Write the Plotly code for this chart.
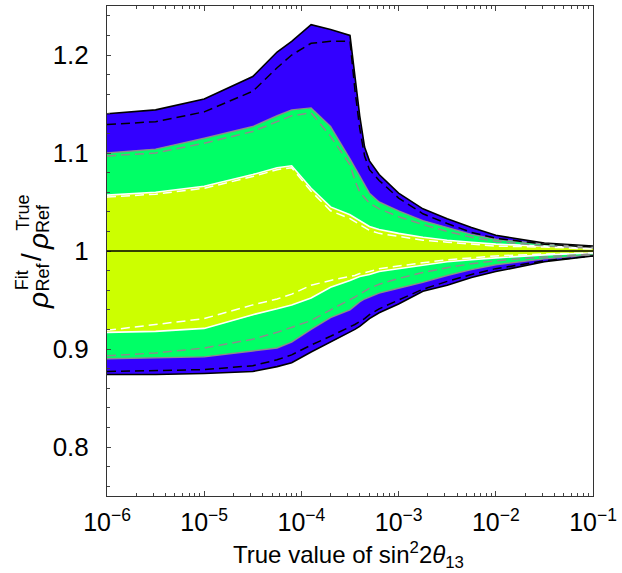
import plotly.graph_objects as go

# ---- data ----
log_x = [-6, -5.5, -5, -4.5, -4.25, -4.1, -3.9, -3.7, -3.5, -3.45, -3.4, -3.35,
         -3.3, -3.2, -3.0, -2.75, -2.5, -2.25, -2.0, -1.5, -1.0]

blue_hi      = [1.140, 1.144, 1.155, 1.178, 1.203, 1.214, 1.231, 1.226, 1.220, 1.180, 1.138, 1.106,
                1.092, 1.078, 1.059, 1.043, 1.033, 1.024, 1.016, 1.008, 1.005]
blue_hi_dash = [1.129, 1.132, 1.142, 1.163, 1.187, 1.200, 1.212, 1.214, 1.214, 1.165, 1.125, 1.097,
                1.083, 1.072, 1.054, 1.038, 1.028, 1.019, 1.013, 1.007, 1.004]
green_hi     = [1.100, 1.104, 1.115, 1.127, 1.138, 1.144, 1.146, 1.127, 1.094, 1.085, 1.077, 1.068,
                1.059, 1.050, 1.041, 1.031, 1.024, 1.017, 1.012, 1.007, 1.004]
green_hi_dash= [1.097, 1.100, 1.110, 1.122, 1.132, 1.138, 1.141, 1.117, 1.088, 1.072, 1.060, 1.054,
                1.049, 1.043, 1.035, 1.027, 1.020, 1.014, 1.010, 1.005, 1.003]
yel_hi       = [1.057, 1.060, 1.066, 1.078, 1.085, 1.087, 1.064, 1.045, 1.037, 1.034, 1.031, 1.028,
                1.025, 1.022, 1.018, 1.014, 1.011, 1.009, 1.007, 1.005, 1.003]
yel_hi_dash  = [1.055, 1.058, 1.064, 1.076, 1.083, 1.085, 1.061, 1.041, 1.033, 1.030, 1.027, 1.024,
                1.021, 1.018, 1.015, 1.011, 1.009, 1.007, 1.005, 1.004, 1.002]

blue_lo      = [0.874, 0.874, 0.875, 0.877, 0.882, 0.886, 0.897, 0.907, 0.917, 0.920, 0.923, 0.927,
                0.931, 0.937, 0.946, 0.959, 0.965, 0.973, 0.979, 0.989, 0.995]
blue_lo_dash = [0.877, 0.878, 0.879, 0.883, 0.889, 0.894, 0.904, 0.913, 0.922, 0.925, 0.928, 0.931,
                0.935, 0.941, 0.950, 0.961, 0.969, 0.976, 0.982, 0.990, 0.995]
green_lo     = [0.890, 0.891, 0.892, 0.898, 0.901, 0.907, 0.920, 0.932, 0.940, 0.944, 0.948, 0.951,
                0.953, 0.957, 0.962, 0.968, 0.975, 0.981, 0.986, 0.992, 0.996]
green_lo_dash= [0.893, 0.896, 0.901, 0.910, 0.917, 0.922, 0.929, 0.940, 0.950, 0.953, 0.956, 0.959,
                0.962, 0.966, 0.972, 0.978, 0.983, 0.987, 0.990, 0.994, 0.997]
yel_lo       = [0.917, 0.918, 0.921, 0.935, 0.941, 0.945, 0.952, 0.963, 0.970, 0.972, 0.974, 0.975,
                0.976, 0.979, 0.982, 0.986, 0.989, 0.991, 0.993, 0.996, 0.998]
yel_lo_dash  = [0.919, 0.925, 0.931, 0.945, 0.951, 0.956, 0.965, 0.970, 0.974, 0.975, 0.977, 0.978,
                0.979, 0.982, 0.985, 0.988, 0.991, 0.993, 0.995, 0.997, 0.998]

x_tick_exp = [-6, -5, -4, -3, -2, -1]
y_tick_vals = [0.8, 0.9, 1.0, 1.1, 1.2]
y_tick_text = ["0.8", "0.9", "1", "1.1", "1.2"]

x = [10 ** v for v in log_x]

BLUE, GREEN, YELLOW = "#3300ff", "#00ff66", "#ccff00"
FONT = "Liberation Sans, Arial, sans-serif"

fig = go.Figure()

def band(hi, lo, color):
    fig.add_trace(go.Scatter(x=x + x[::-1], y=hi + lo[::-1], fill="toself",
                             fillcolor=color, mode="lines", line=dict(width=0),
                             hoverinfo="skip", showlegend=False))

band(blue_hi, blue_lo, BLUE)
band(green_hi, green_lo, GREEN)
band(yel_hi, yel_lo, YELLOW)

def line(y, color, dash=None, width=1.4):
    fig.add_trace(go.Scatter(x=x, y=y, mode="lines",
                             line=dict(color=color, width=width, dash=dash),
                             hoverinfo="skip", showlegend=False))

for y in (blue_hi, blue_lo):
    line(y, "black", width=1.6)
for y in (green_hi, green_lo):
    line(y, "#8c8c8c", width=1.4)
for y in (yel_hi, yel_lo):
    line(y, "white", width=1.6)
for y in (blue_hi_dash, blue_lo_dash):
    line(y, "black", dash="9px,5px", width=1.5)
for y in (green_hi_dash, green_lo_dash):
    line(y, "#8c8c8c", dash="9px,5px", width=1.5)
for y in (yel_hi_dash, yel_lo_dash):
    line(y, "white", dash="9px,5px", width=1.5)

# reference line at 1
fig.add_shape(type="line", xref="paper", x0=0, x1=1, yref="y", y0=1, y1=1,
              line=dict(color="black", width=1.3))

fig.update_xaxes(type="log", range=[-6, -1], showgrid=False, zeroline=False,
                 tickvals=[10 ** e for e in x_tick_exp],
                 ticktext=["10<sup>\u2212%d</sup>" % (-e) for e in x_tick_exp],
                 ticks="inside", ticklen=5, tickcolor="#444", tickwidth=1,
                 minor=dict(ticks="inside", ticklen=3, tickcolor="#444", dtick="D1"),
                 showline=True, linecolor="#333", linewidth=1, mirror="allticks",
                 ticklabelstandoff=4,
                 tickfont=dict(family=FONT, size=25, color="black"))
fig.update_yaxes(range=[0.75, 1.25], showgrid=False, zeroline=False,
                 tickvals=y_tick_vals, ticktext=y_tick_text,
                 ticks="inside", ticklen=4, tickcolor="#444", tickwidth=1,
                 minor=dict(ticks="inside", ticklen=3, tickcolor="#444", dtick=0.02),
                 showline=True, linecolor="#333", linewidth=1, mirror=True,
                 ticklabelstandoff=12,
                 tickfont=dict(family=FONT, size=26, color="black"))

L, R, T, B = 107, 25, 5, 77
W, H = 622, 573
pw, ph = W - L - R, H - T - B

def px(xp):
    return (xp - L) / pw

def py(yp):
    return (H - B - yp) / ph

ann = []
# x title
ann.append(dict(text="True value of sin<sup>2</sup>2<i>\u03b8</i><sub>13</sub>",
                x=px(350), y=py(555), xref="paper", yref="paper", showarrow=False,
                xanchor="center", yanchor="middle",
                font=dict(family=FONT, size=24, color="black")))
# y title built from pieces (stacked super/subscripts)
big = dict(family=FONT, size=28, color="black")
small = dict(family=FONT, size=18, color="black")
pieces = [
    ("<i>\u03c1</i>", 38, 300, big),
    ("Ref", 42, 276.5, small),
    ("Fit", 22, 280, small),
    ("/", 31, 257, big),
    ("<i>\u03c1</i>", 38, 241, big),
    ("Ref", 42, 218, small),
    ("True", 22, 212.5, small),
]
for txt, xx, yy, f in pieces:
    ann.append(dict(text=txt, x=px(xx), y=py(yy), xref="paper", yref="paper",
                    showarrow=False, textangle=-90, xanchor="center",
                    yanchor="middle", font=f))

fig.update_layout(width=W, height=H, margin=dict(l=L, r=R, t=T, b=B),
                  paper_bgcolor="white", plot_bgcolor="white",
                  annotations=ann, showlegend=False)

fig.write_html("out.html")
